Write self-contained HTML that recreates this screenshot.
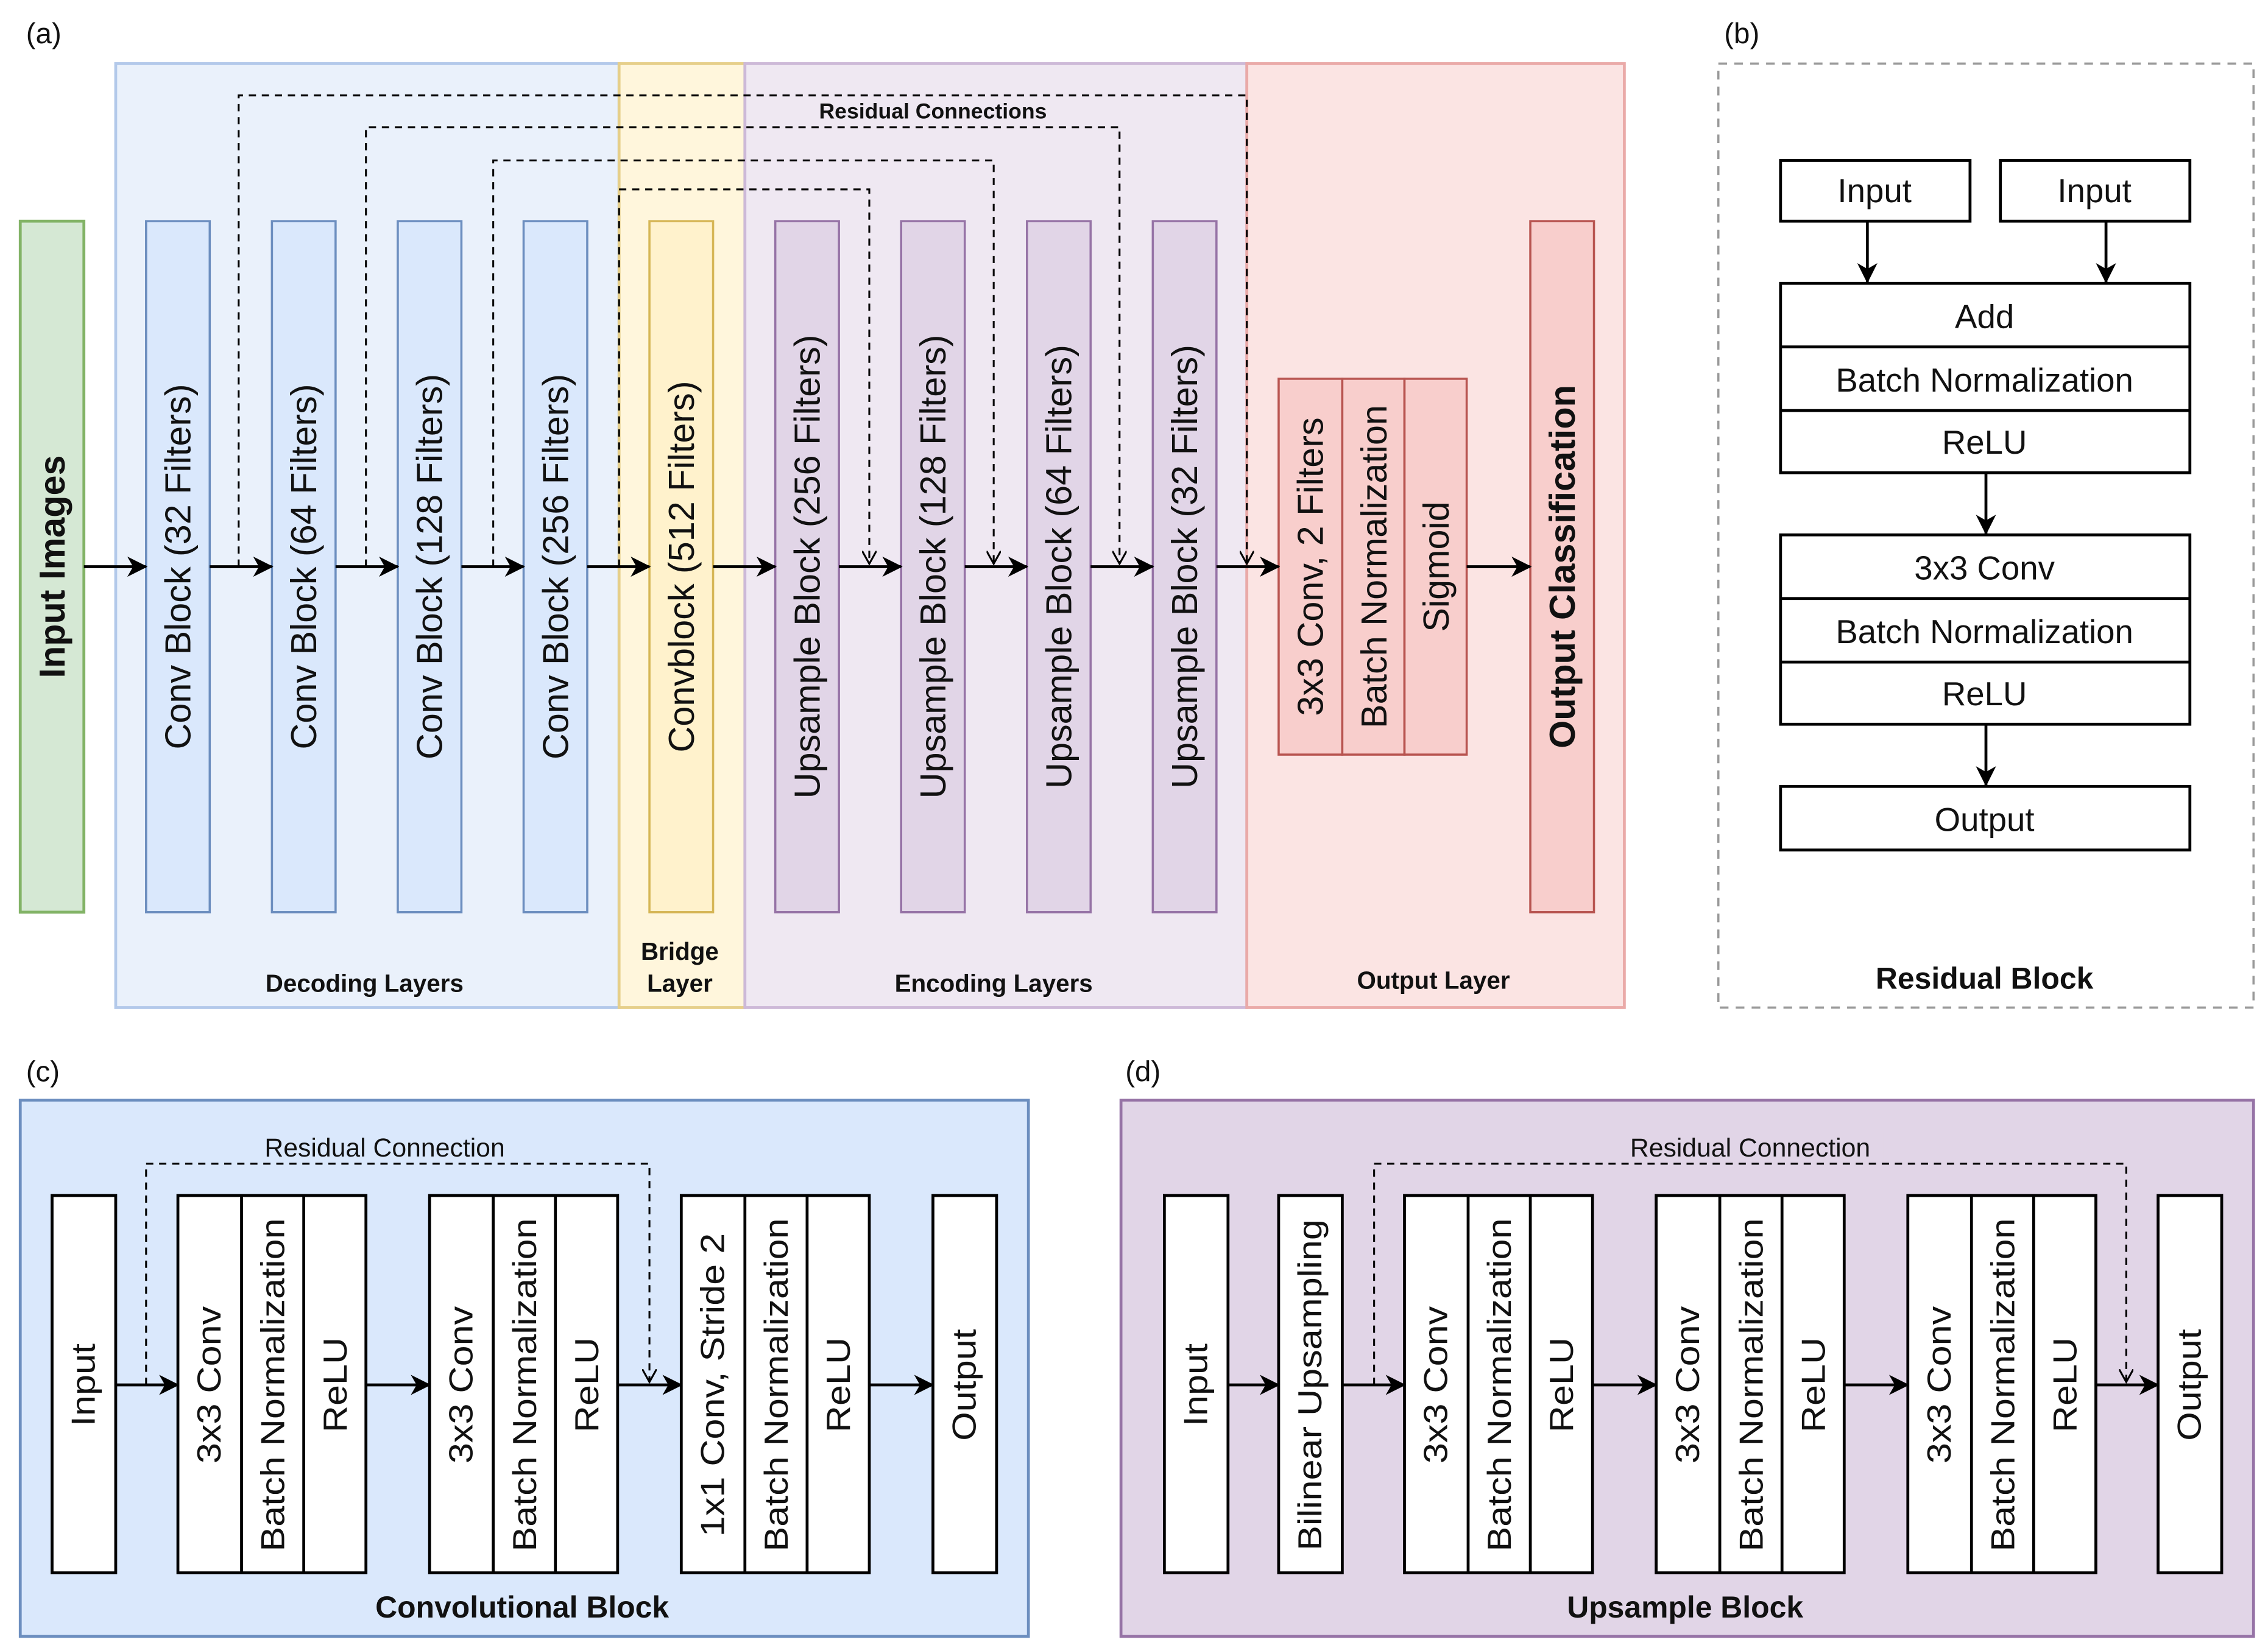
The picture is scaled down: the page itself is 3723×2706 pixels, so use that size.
<!DOCTYPE html>
<html><head><meta charset="utf-8"><style>
html,body{margin:0;padding:0;background:#fff}
svg{display:block}
text{font-family:"Liberation Sans",Arial,sans-serif;fill:#111}
</style></head><body>
<svg width="3723" height="2706" viewBox="0 0 1568 1140" preserveAspectRatio="none" xmlns="http://www.w3.org/2000/svg">
<defs>
<marker id="a" markerWidth="14" markerHeight="14" refX="13" refY="7" orient="auto" markerUnits="userSpaceOnUse">
<path d="M0,0 L14,7 L0,14 L4,7 z" fill="#000"/></marker>
<marker id="s" markerWidth="10" markerHeight="10" refX="9" refY="5" orient="auto" markerUnits="userSpaceOnUse">
<path d="M0,0 L9,5 L0,10" fill="none" stroke="#000" stroke-width="1.3"/></marker>
</defs>
<rect width="1568" height="1140" fill="#fff"/>
<!-- panel a -->
<text x="18" y="30" font-size="20">(a)</text>
<rect x="80" y="44" width="348" height="653" fill="#eaf1fb" stroke="#b3c9ea" stroke-width="2"/>
<rect x="428" y="44" width="87" height="653" fill="#fff6dc" stroke="#e6cf8a" stroke-width="2"/>
<rect x="515" y="44" width="347" height="653" fill="#efe8f2" stroke="#cdb9d8" stroke-width="2"/>
<rect x="862" y="44" width="261" height="653" fill="#fbe4e3" stroke="#eaaaa8" stroke-width="2"/>
<rect x="14" y="153" width="44" height="478" fill="#d5e8d4" stroke="#82b366" stroke-width="2"/>
<text transform="translate(36,392) rotate(-90)" text-anchor="middle" dominant-baseline="central" font-size="25" font-weight="bold">Input Images</text>
<g fill="#dae8fc" stroke="#6c8ebf" stroke-width="1.5">
<rect x="101" y="153" width="44" height="478"/><rect x="188" y="153" width="44" height="478"/>
<rect x="275" y="153" width="44" height="478"/><rect x="362" y="153" width="44" height="478"/></g>
<rect x="449" y="153" width="44" height="478" fill="#fff2cc" stroke="#d6b656" stroke-width="1.5"/>
<g fill="#e1d5e7" stroke="#9673a6" stroke-width="1.5">
<rect x="536" y="153" width="44" height="478"/><rect x="623" y="153" width="44" height="478"/>
<rect x="710" y="153" width="44" height="478"/><rect x="797" y="153" width="44" height="478"/></g>
<g fill="#f8cecc" stroke="#b85450" stroke-width="1.5">
<rect x="884" y="262" width="44" height="260"/><rect x="928" y="262" width="43" height="260"/><rect x="971" y="262" width="43" height="260"/>
<rect x="1058" y="153" width="44" height="478"/></g>
<g font-size="25" text-anchor="middle" dominant-baseline="central">
<text transform="translate(123,392) rotate(-90)">Conv Block (32 Filters)</text>
<text transform="translate(210,392) rotate(-90)">Conv Block (64 Filters)</text>
<text transform="translate(297,392) rotate(-90)">Conv Block (128 Filters)</text>
<text transform="translate(384,392) rotate(-90)">Conv Block (256 Filters)</text>
<text transform="translate(471,392) rotate(-90)">Convblock (512 Filters)</text>
<text transform="translate(558,392) rotate(-90)">Upsample Block (256 Filters)</text>
<text transform="translate(645,392) rotate(-90)">Upsample Block (128 Filters)</text>
<text transform="translate(732,392) rotate(-90)">Upsample Block (64 Filters)</text>
<text transform="translate(819,392) rotate(-90)">Upsample Block (32 Filters)</text>
<text transform="translate(906,392) rotate(-90)">3x3 Conv, 2 Filters</text>
<text transform="translate(950,392) rotate(-90)">Batch Normalization</text>
<text transform="translate(993,392) rotate(-90)">Sigmoid</text>
<text transform="translate(1080,392) rotate(-90)" font-weight="bold" font-size="25">Output Classification</text>
</g>
<g stroke="#000" stroke-width="2" marker-end="url(#a)">
<line x1="58" y1="392" x2="101" y2="392"/><line x1="145" y1="392" x2="188" y2="392"/>
<line x1="232" y1="392" x2="275" y2="392"/><line x1="319" y1="392" x2="362" y2="392"/>
<line x1="406" y1="392" x2="449" y2="392"/><line x1="493" y1="392" x2="536" y2="392"/>
<line x1="580" y1="392" x2="623" y2="392"/><line x1="667" y1="392" x2="710" y2="392"/>
<line x1="754" y1="392" x2="797" y2="392"/><line x1="841" y1="392" x2="884" y2="392"/>
<line x1="1014" y1="392" x2="1058" y2="392"/></g>
<g fill="none" stroke="#000" stroke-width="1.3" stroke-dasharray="5,4" marker-end="url(#s)">
<polyline points="165,392 165,66 862,66 862,390"/>
<polyline points="253,392 253,88 774,88 774,390"/>
<polyline points="341,392 341,111 687,111 687,390"/>
<polyline points="428,392 428,131 601,131 601,390"/></g>
<rect x="545" y="68" width="200" height="16" fill="#efe8f2"/>
<text x="645" y="82" font-size="15" font-weight="bold" text-anchor="middle">Residual Connections</text>
<g font-size="17" font-weight="bold" text-anchor="middle">
<text x="252" y="686">Decoding Layers</text>
<text x="470" y="664">Bridge</text><text x="470" y="686">Layer</text>
<text x="687" y="686">Encoding Layers</text>
<text x="991" y="684">Output Layer</text></g>
<!-- panel b -->
<text x="1192" y="30" font-size="20">(b)</text>
<rect x="1188" y="44" width="370" height="653" fill="none" stroke="#999" stroke-width="1.5" stroke-dasharray="6,5"/>
<g fill="#fff" stroke="#000" stroke-width="2">
<rect x="1231" y="111" width="131" height="42"/><rect x="1383" y="111" width="131" height="42"/>
<rect x="1231" y="196" width="283" height="131"/><rect x="1231" y="370" width="283" height="131"/>
<rect x="1231" y="544" width="283" height="44"/>
<line x1="1231" y1="240" x2="1514" y2="240"/><line x1="1231" y1="284" x2="1514" y2="284"/>
<line x1="1231" y1="414" x2="1514" y2="414"/><line x1="1231" y1="458" x2="1514" y2="458"/></g>
<g stroke="#000" stroke-width="2" marker-end="url(#a)">
<line x1="1291" y1="153" x2="1291" y2="195"/><line x1="1456" y1="153" x2="1456" y2="195"/>
<line x1="1373" y1="327" x2="1373" y2="369"/><line x1="1373" y1="501" x2="1373" y2="543"/></g>
<g font-size="23" text-anchor="middle" dominant-baseline="central">
<text x="1296" y="132">Input</text><text x="1448" y="132">Input</text>
<text x="1372" y="219">Add</text><text x="1372" y="263">Batch Normalization</text><text x="1372" y="306">ReLU</text>
<text x="1372" y="393">3x3 Conv</text><text x="1372" y="437">Batch Normalization</text><text x="1372" y="480">ReLU</text>
<text x="1372" y="567">Output</text></g>
<text x="1372" y="684" font-size="21" font-weight="bold" text-anchor="middle">Residual Block</text>
<!-- panel c -->
<text x="18" y="748" font-size="20">(c)</text>
<rect x="14" y="761" width="697" height="371" fill="#dae8fc" stroke="#6c8ebf" stroke-width="2"/>
<g fill="#fff" stroke="#000" stroke-width="2">
<rect x="36" y="827" width="44" height="261"/>
<rect x="123" y="827" width="130" height="261"/><line x1="167" y1="827" x2="167" y2="1088"/><line x1="210" y1="827" x2="210" y2="1088"/>
<rect x="297" y="827" width="130" height="261"/><line x1="341" y1="827" x2="341" y2="1088"/><line x1="384" y1="827" x2="384" y2="1088"/>
<rect x="471" y="827" width="130" height="261"/><line x1="515" y1="827" x2="515" y2="1088"/><line x1="558" y1="827" x2="558" y2="1088"/>
<rect x="645" y="827" width="44" height="261"/></g>
<!-- panel d -->
<text x="778" y="748" font-size="20">(d)</text>
<rect x="775" y="761" width="783" height="371" fill="#e1d5e7" stroke="#9673a6" stroke-width="2"/>
<g fill="#fff" stroke="#000" stroke-width="2">
<rect x="805" y="827" width="44" height="261"/>
<rect x="884" y="827" width="44" height="261"/>
<rect x="971" y="827" width="130" height="261"/><line x1="1015" y1="827" x2="1015" y2="1088"/><line x1="1058" y1="827" x2="1058" y2="1088"/>
<rect x="1145" y="827" width="130" height="261"/><line x1="1189" y1="827" x2="1189" y2="1088"/><line x1="1232" y1="827" x2="1232" y2="1088"/>
<rect x="1319" y="827" width="130" height="261"/><line x1="1363" y1="827" x2="1363" y2="1088"/><line x1="1406" y1="827" x2="1406" y2="1088"/>
<rect x="1492" y="827" width="44" height="261"/></g>
<g stroke="#000" stroke-width="2" marker-end="url(#a)">
<line x1="80" y1="958" x2="123" y2="958"/><line x1="253" y1="958" x2="297" y2="958"/>
<line x1="427" y1="958" x2="471" y2="958"/><line x1="601" y1="958" x2="645" y2="958"/>
<line x1="849" y1="958" x2="884" y2="958"/><line x1="928" y1="958" x2="971" y2="958"/>
<line x1="1101" y1="958" x2="1145" y2="958"/><line x1="1275" y1="958" x2="1319" y2="958"/>
<line x1="1449" y1="958" x2="1492" y2="958"/></g>
<g fill="none" stroke="#000" stroke-width="1.3" stroke-dasharray="5,4" marker-end="url(#s)">
<polyline points="101,958 101,805 449,805 449,956"/>
<polyline points="950,958 950,805 1470,805 1470,956"/></g>
<rect x="175" y="784" width="182" height="18" fill="#dae8fc"/>
<rect x="1118" y="784" width="184" height="18" fill="#e1d5e7"/>
<g font-size="18" text-anchor="middle" fill="#222">
<text x="266" y="800">Residual Connection</text><text x="1210" y="800">Residual Connection</text></g>
<g font-size="23" text-anchor="middle" dominant-baseline="central">
<text transform="translate(58,958) rotate(-90) scale(1.12,1)">Input</text>
<text transform="translate(145,958) rotate(-90) scale(1.12,1)">3x3 Conv</text>
<text transform="translate(189,958) rotate(-90) scale(1.12,1)">Batch Normalization</text>
<text transform="translate(232,958) rotate(-90) scale(1.12,1)">ReLU</text>
<text transform="translate(319,958) rotate(-90) scale(1.12,1)">3x3 Conv</text>
<text transform="translate(363,958) rotate(-90) scale(1.12,1)">Batch Normalization</text>
<text transform="translate(406,958) rotate(-90) scale(1.12,1)">ReLU</text>
<text transform="translate(493,958) rotate(-90) scale(1.12,1)">1x1 Conv, Stride 2</text>
<text transform="translate(537,958) rotate(-90) scale(1.12,1)">Batch Normalization</text>
<text transform="translate(580,958) rotate(-90) scale(1.12,1)">ReLU</text>
<text transform="translate(667,958) rotate(-90) scale(1.12,1)">Output</text>
<text transform="translate(827,958) rotate(-90) scale(1.12,1)">Input</text>
<text transform="translate(906,958) rotate(-90) scale(1.12,1)">Bilinear Upsampling</text>
<text transform="translate(993,958) rotate(-90) scale(1.12,1)">3x3 Conv</text>
<text transform="translate(1037,958) rotate(-90) scale(1.12,1)">Batch Normalization</text>
<text transform="translate(1080,958) rotate(-90) scale(1.12,1)">ReLU</text>
<text transform="translate(1167,958) rotate(-90) scale(1.12,1)">3x3 Conv</text>
<text transform="translate(1211,958) rotate(-90) scale(1.12,1)">Batch Normalization</text>
<text transform="translate(1254,958) rotate(-90) scale(1.12,1)">ReLU</text>
<text transform="translate(1341,958) rotate(-90) scale(1.12,1)">3x3 Conv</text>
<text transform="translate(1385,958) rotate(-90) scale(1.12,1)">Batch Normalization</text>
<text transform="translate(1428,958) rotate(-90) scale(1.12,1)">ReLU</text>
<text transform="translate(1514,958) rotate(-90) scale(1.12,1)">Output</text></g>
<g font-size="21" font-weight="bold" text-anchor="middle">
<text x="361" y="1119">Convolutional Block</text><text x="1165" y="1119">Upsample Block</text></g>
</svg>
</body></html>
